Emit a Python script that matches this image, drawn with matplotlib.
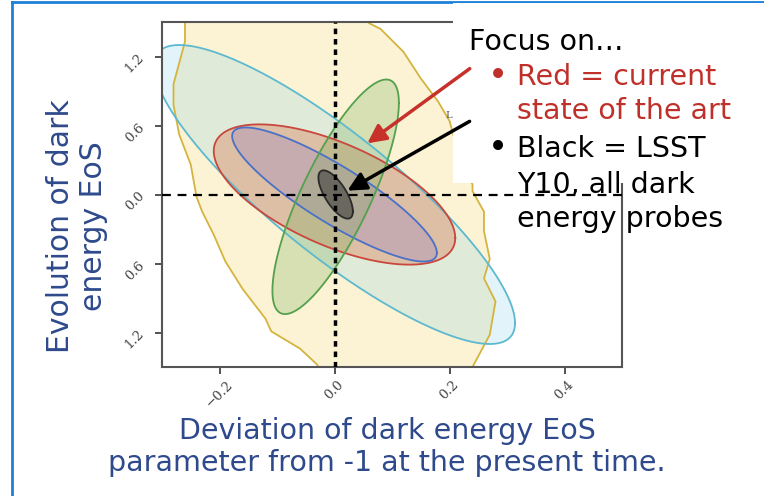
import numpy as np
import matplotlib
matplotlib.use("Agg")
import matplotlib.pyplot as plt
from matplotlib.patches import Rectangle, FancyArrowPatch
from matplotlib.lines import Line2D

# -------------------------------
# Data (forecast contours in w0 / wa space)
# -------------------------------

x_ticks = [-0.2, 0.0, 0.2, 0.4]
x_tick_labels = ["\u22120.2", "0.0", "0.2", "0.4"]
y_ticks = [1.2, 0.6, 0.0, -0.6, -1.2]
y_tick_labels = ["1.2", "0.6", "0.0", "0.6", "1.2"]

# broad (irregular) contour, boundary points
yellow_x = [-0.25, -0.26, -0.26, -0.28, -0.28, -0.27, -0.25, -0.24, -0.23, -0.21,
            -0.19, -0.16, -0.12, -0.11, -0.06, -0.03, -0.02,
            0.24, 0.24, 0.27, 0.28, 0.26, 0.27, 0.26, 0.26, 0.24, 0.24, 0.22,
            0.21, 0.20, 0.18, 0.15, 0.12, 0.08, 0.06, 0.05]
yellow_y = [1.59, 1.49, 1.33, 0.96, 0.78, 0.52, 0.26, -0.02, -0.15, -0.35,
            -0.58, -0.82, -1.08, -1.19, -1.34, -1.48, -1.63,
            -1.63, -1.50, -1.22, -0.93, -0.73, -0.56, -0.32, -0.15, 0.03, 0.09, 0.23,
            0.46, 0.64, 0.81, 1.01, 1.24, 1.44, 1.49, 1.59]

# ellipses: centre x, centre y, half width x, half width y, correlation
cyan_ell = [0.0, 0.0, 0.314, 1.30, -0.86]
red_ell = [0.0, 0.0, 0.21, 0.61, -0.62]
blue_ell = [0.0, 0.0, 0.178, 0.583, -0.87]
green_ell = [0.002, -0.02, 0.110, 1.02, 0.80]
black_ell = [0.002, 0.0, 0.030, 0.21, -0.70]


def ellipse_xy(cx, cy, sx, sy, rho, n=300):
    t = np.linspace(0, 2 * np.pi, n)
    x = cx + sx * np.cos(t)
    y = cy + sy * (rho * np.cos(t) + np.sqrt(1 - rho ** 2) * np.sin(t))
    return x, y


W, H = 764, 496


def px(x, y):
    return x / W, 1 - y / H


fig = plt.figure(figsize=(7.64, 4.96), dpi=100)
fig.patch.set_facecolor("white")

ax = fig.add_axes([162 / W, 1 - 367 / H, 460 / W, 345 / H])

# -------------------------------
# Contours
# -------------------------------

ax.fill(yellow_x, yellow_y, facecolor="#F5D15A", alpha=0.25, edgecolor="none")
ax.plot(yellow_x + yellow_x[:1], yellow_y + yellow_y[:1], color="#D4B43E", lw=1.3)

layers = [
    (cyan_ell, "#7CCDE6", "#5DB9CF", 0.22),
    (red_ell, "#D86A40", "#C9473C", 0.33),
    (blue_ell, "#7A6CD0", "#4A70C8", 0.22),
    (green_ell, "#6AA850", "#55A04D", 0.25),
    (black_ell, "#333333", "#2B2B2B", 0.55),
]
for ell, fc, ec, a in layers:
    ex, ey = ellipse_xy(*ell)
    ax.fill(ex, ey, facecolor=fc, alpha=a, edgecolor="none")
    ax.plot(ex, ey, color=ec, lw=1.3)

ax.axvline(0, color="black", lw=2.5, ls=(0, (1.6, 1.4)), zorder=5)
ax.axhline(0, color="black", lw=1.6, ls=(0, (4, 3)), zorder=5)

ax.set_xlim(-0.3, 0.5)
ax.set_ylim(-1.5, 1.5)

ax.set_xticks(x_ticks)
ax.set_xticklabels(x_tick_labels, rotation=45, family="DejaVu Serif",
                   fontsize=9.5, color="#444444")
ax.set_yticks(y_ticks)
ax.set_yticklabels(y_tick_labels, rotation=45, family="DejaVu Serif",
                   fontsize=9.5, color="#444444")
ax.tick_params(axis="x", direction="out", length=5, width=1.3, color="#444444", pad=3)
ax.tick_params(axis="y", direction="out", length=5, width=1.3, color="#444444", pad=6)
for s in ax.spines.values():
    s.set_color("#555555")
    s.set_linewidth(1.5)

# -------------------------------
# Slide elements
# -------------------------------

label_color = "#2E4A8C"
fig.text(*px(77, 226), "Evolution of dark\nenergy EoS", rotation=90,
         ha="center", va="center", fontsize=21.5, color=label_color,
         linespacing=1.15)
fig.text(*px(387, 447), "Deviation of dark energy EoS\nparameter from -1 at the present time.",
         ha="center", va="center", fontsize=20.5, color=label_color,
         linespacing=1.2)

# white box over the upper right of the plot
fig.add_artist(Rectangle(px(453, 183), (W - 453) / W, 180 / H,
                         transform=fig.transFigure, facecolor="white",
                         edgecolor="none", zorder=5))

fig.text(*px(449, 116), "L", fontsize=7, family="DejaVu Serif",
         color="#555555", ha="center", va="center", zorder=6)

red = "#C0302A"
fs = 20.5
fig.text(*px(469, 42), "Focus on\u2026", fontsize=fs, color="black",
         va="center", zorder=7)
fig.text(*px(488, 77), "\u2022", fontsize=fs + 4, color=red, va="center", zorder=7)
fig.text(*px(517, 77), "Red = current", fontsize=fs, color=red, va="center", zorder=7)
fig.text(*px(517, 111), "state of the art", fontsize=fs, color=red, va="center", zorder=7)
fig.text(*px(488, 149), "\u2022", fontsize=fs + 4, color="black", va="center", zorder=7)
fig.text(*px(517, 149), "Black = LSST", fontsize=fs, color="black", va="center", zorder=7)
fig.text(*px(517, 185), "Y10, all dark", fontsize=fs, color="black", va="center", zorder=7)
fig.text(*px(517, 219), "energy probes", fontsize=fs, color="black", va="center", zorder=7)

for tail, tip, col in [((472, 67), (365, 145), "#C8302A"),
                       ((472, 120), (345, 192), "black")]:
    fig.add_artist(FancyArrowPatch(px(*tail), px(*tip), transform=fig.transFigure,
                                   arrowstyle="-|>", mutation_scale=28, lw=2.5,
                                   color=col, zorder=8))

# slide frame
border = "#1E80D8"
fig.add_artist(Line2D([12 / W, 12 / W], [0, 1 - 2 / H], transform=fig.transFigure,
                      color=border, lw=2))
fig.add_artist(Line2D([12 / W, 1], [1 - 2 / H, 1 - 2 / H], transform=fig.transFigure,
                      color=border, lw=2))

fig.savefig("out.png", dpi=100)
